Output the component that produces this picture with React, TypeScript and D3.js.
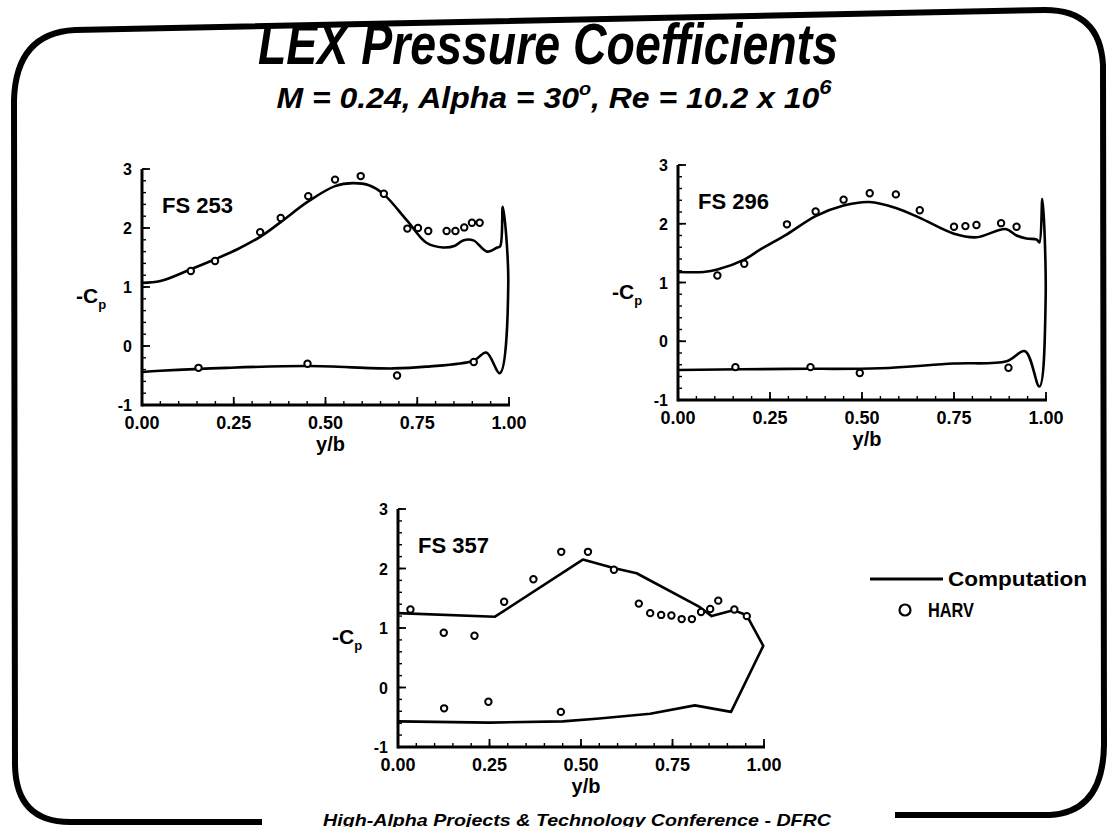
import * as d3 from "d3";

const font = "'Liberation Sans', Arial, Helvetica, sans-serif";

const xMajorTicks = [0, 0.25, 0.5, 0.75, 1];
const yMajorTicks = [-1, 0, 1, 2, 3];
const xTickLabels = ["0.00", "0.25", "0.50", "0.75", "1.00"];
const yTickLabels = ["-1", "0", "1", "2", "3"];

const seriesNames = ["Computation", "HARV"];

// FS 253: computed loop (upper surface out to the tip, then lower surface back)
const fs253Calc: [number, number][] = [
  [0, 1.07], [0.05, 1.1], [0.133, 1.3], [0.199, 1.47], [0.26, 1.64],
  [0.322, 1.85], [0.378, 2.1], [0.453, 2.45], [0.526, 2.71], [0.575, 2.76],
  [0.62, 2.72], [0.659, 2.57], [0.723, 2.12], [0.775, 1.75], [0.82, 1.67],
  [0.853, 1.7], [0.875, 1.79], [0.903, 1.79], [0.94, 1.6], [0.968, 1.67],
  [0.976, 1.69], [0.983, 2.36], [0.998, 1.06], [0.975, -0.46], [0.938, -0.11],
  [0.903, -0.25], [0.775, -0.35], [0.685, -0.38], [0.453, -0.34],
  [0.231, -0.37], [0.05, -0.42], [0, -0.44],
];
const fs253Harv: [number, number][] = [
  [0.133, 1.27], [0.199, 1.44], [0.322, 1.93], [0.378, 2.17], [0.453, 2.54],
  [0.526, 2.82], [0.596, 2.88], [0.659, 2.58], [0.723, 1.99], [0.752, 2.0],
  [0.78, 1.95], [0.83, 1.95], [0.854, 1.95], [0.878, 2.01], [0.899, 2.09],
  [0.92, 2.09],
  [0.154, -0.37], [0.451, -0.3], [0.695, -0.5], [0.904, -0.27],
];

// FS 296
const fs296Calc: [number, number][] = [
  [0, 1.18], [0.07, 1.18], [0.107, 1.22], [0.18, 1.39], [0.223, 1.56],
  [0.296, 1.82], [0.374, 2.13], [0.45, 2.31], [0.52, 2.37], [0.592, 2.27],
  [0.657, 2.1], [0.75, 1.83], [0.812, 1.77], [0.89, 1.91], [0.92, 1.8],
  [0.947, 1.75], [0.975, 1.73], [0.982, 1.68], [0.99, 2.42], [0.999, 0.71],
  [0.982, -0.77], [0.943, -0.17], [0.893, -0.34], [0.748, -0.38],
  [0.549, -0.46], [0.3, -0.47], [0, -0.49],
];
const fs296Harv: [number, number][] = [
  [0.107, 1.12], [0.18, 1.32], [0.296, 1.99], [0.374, 2.21], [0.45, 2.41],
  [0.521, 2.52], [0.592, 2.5], [0.657, 2.23], [0.75, 1.95], [0.781, 1.96],
  [0.811, 1.98], [0.878, 2.01], [0.92, 1.95],
  [0.156, -0.44], [0.36, -0.44], [0.494, -0.54], [0.898, -0.45],
];

// FS 357
const fs357Calc: [number, number][] = [
  [0, 1.25], [0.265, 1.19], [0.505, 2.15], [0.589, 2.01], [0.652, 1.92],
  [0.825, 1.35], [0.857, 1.2], [0.916, 1.3], [0.952, 1.22], [0.998, 0.7],
  [0.91, -0.41], [0.811, -0.3], [0.689, -0.44], [0.55, -0.52], [0.45, -0.57],
  [0.25, -0.59], [0, -0.57],
];
const fs357Harv: [number, number][] = [
  [0.034, 1.31], [0.125, 0.92], [0.209, 0.87], [0.29, 1.44], [0.37, 1.82],
  [0.446, 2.28], [0.519, 2.28], [0.59, 1.98], [0.658, 1.41], [0.689, 1.25],
  [0.719, 1.22], [0.747, 1.21], [0.775, 1.15], [0.803, 1.15], [0.828, 1.27],
  [0.853, 1.32], [0.875, 1.46], [0.919, 1.31], [0.953, 1.2],
  [0.126, -0.35], [0.247, -0.24], [0.445, -0.41],
];

interface PanelProps {
  label: string;
  calc: [number, number][];
  harv: [number, number][];
  left: number;
  right: number;
  top: number;
  bottom: number;
  smooth: boolean;
}

function Panel({ label, calc, harv, left, right, top, bottom, smooth }: PanelProps) {
  const x = d3.scaleLinear([0, 1], [left, right]);
  const y = d3.scaleLinear([-1, 3], [bottom, top]);
  const line = d3
    .line<[number, number]>()
    .x((d) => x(d[0]))
    .y((d) => y(d[1]))
    .curve(smooth ? d3.curveCatmullRom.alpha(0.5) : d3.curveLinear);

  const xMinor = d3.range(0, 1.0001, 0.05);
  const yMinor = d3.range(-1, 3.0001, 0.2);

  return (
    <g>
      {/* axes */}
      <line x1={x(0)} x2={x(1) + 1} y1={y(-1)} y2={y(-1)} stroke="#000" strokeWidth={3} />
      <line x1={x(0)} x2={x(0)} y1={y(-1) + 1.5} y2={y(3)} stroke="#000" strokeWidth={3} />
      {xMinor.map((t, i) => (
        <line key={"xm" + i} x1={x(t)} x2={x(t)} y1={y(-1)} y2={y(-1) - 4} stroke="#000" strokeWidth={1.4} />
      ))}
      {xMajorTicks.map((t, i) => (
        <line key={"xM" + i} x1={x(t)} x2={x(t)} y1={y(-1)} y2={y(-1) - 8} stroke="#000" strokeWidth={1.8} />
      ))}
      {yMinor.map((t, i) => (
        <line key={"ym" + i} x1={x(0)} x2={x(0) + 4} y1={y(t)} y2={y(t)} stroke="#000" strokeWidth={1.4} />
      ))}
      {yMajorTicks.map((t, i) => (
        <line key={"yM" + i} x1={x(0)} x2={x(0) + 8} y1={y(t)} y2={y(t)} stroke="#000" strokeWidth={1.8} />
      ))}
      {xMajorTicks.map((t, i) => (
        <text key={"xl" + i} x={x(t)} y={y(-1) + 24} textAnchor="middle" fontFamily={font} fontWeight="bold" fontSize={18}>
          {xTickLabels[i]}
        </text>
      ))}
      {yMajorTicks.map((t, i) => (
        <text key={"yl" + i} x={x(0) - 10} y={y(t) + 6} textAnchor="end" fontFamily={font} fontWeight="bold" fontSize={16}>
          {yTickLabels[i]}
        </text>
      ))}
      <text x={(x(0) + x(1)) / 2 + 5} y={y(-1) + 46} textAnchor="middle" fontFamily={font} fontWeight="bold" fontSize={20}>
        y/b
      </text>
      <text x={x(0) - 66} y={y(1) + 16} fontFamily={font} fontWeight="bold" fontSize={21}>
        -C
        <tspan fontSize={13} dy={6}>p</tspan>
      </text>
      <text x={x(0) + 20} y={y(3) + 44} fontFamily={font} fontWeight="bold" fontSize={22}>
        {label}
      </text>

      {/* computation */}
      <path d={line(calc) ?? ""} fill="none" stroke="#000" strokeWidth={2.6} strokeLinejoin="round" />

      {/* flight data */}
      {harv.map((d, i) => (
        <circle key={"h" + i} cx={x(d[0])} cy={y(d[1])} r={3.2} fill="#fff" stroke="#000" strokeWidth={2} />
      ))}
    </g>
  );
}

export default function App() {
  return (
    <div style={{ position: "absolute", left: 0, top: 0 }}>
      <svg width={1111} height={827} style={{ display: "block", background: "#fff" }}>
        {/* slide frame */}
        <path
          d="M 262 822 L 70 822 Q 16 822 15 765 L 14 100 Q 16 33 75 30 L 1045 10 Q 1100 10 1103 65 L 1104 745 Q 1103 812 1050 815 L 895 815"
          fill="none"
          stroke="#000"
          strokeWidth={6}
        />

        <text x={548} y={64} textAnchor="middle" fontFamily={font} fontWeight="bold" fontStyle="italic" fontSize={58} textLength={580} lengthAdjust="spacingAndGlyphs">
          LEX Pressure Coefficients
        </text>
        <text x={554} y={108} textAnchor="middle" fontFamily={font} fontWeight="bold" fontStyle="italic" fontSize={29} textLength={555} lengthAdjust="spacingAndGlyphs">
          M = 0.24, Alpha = 30
          <tspan fontSize={18} dy={-13}>o</tspan>
          <tspan dy={13}>, Re = 10.2 x 10</tspan>
          <tspan fontSize={20} dy={-14}>6</tspan>
        </text>

        <Panel label="FS 253" calc={fs253Calc} harv={fs253Harv} left={142} right={509} top={169} bottom={405} smooth />
        <Panel label="FS 296" calc={fs296Calc} harv={fs296Harv} left={678} right={1046} top={165} bottom={400} smooth />
        <Panel label="FS 357" calc={fs357Calc} harv={fs357Harv} left={398} right={764} top={509} bottom={747} smooth={false} />

        {/* legend */}
        <line x1={870} x2={943} y1={579} y2={579} stroke="#000" strokeWidth={3} />
        <text x={948} y={586} fontFamily={font} fontWeight="bold" fontSize={21} textLength={139} lengthAdjust="spacingAndGlyphs">
          {seriesNames[0]}
        </text>
        <circle cx={905} cy={610} r={5.5} fill="#fff" stroke="#000" strokeWidth={2.2} />
        <text x={928} y={617} fontFamily={font} fontWeight="bold" fontSize={21} textLength={46} lengthAdjust="spacingAndGlyphs">
          {seriesNames[1]}
        </text>

        <text x={577} y={826} textAnchor="middle" fontFamily={font} fontWeight="bold" fontStyle="italic" fontSize={17} textLength={508} lengthAdjust="spacingAndGlyphs">
          High-Alpha Projects &amp; Technology Conference - DFRC
        </text>
      </svg>
    </div>
  );
}
